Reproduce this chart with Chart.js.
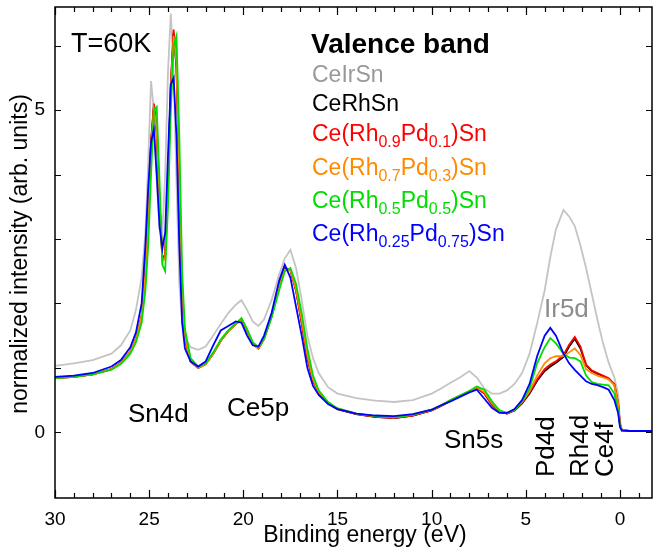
<!DOCTYPE html>
<html>
<head>
<meta charset="utf-8">
<script src="https://cdn.jsdelivr.net/npm/chart.js@4"></script>
<style>
  body { margin: 0; background: #fff; }
  canvas { display: block; }
</style>
</head>
<body>
<canvas id="vb-chart" width="654" height="551"></canvas>
<script>
// binding energy grid (eV)
let energy = [
  30, 29, 28, 27, 26.5, 26, 25.7, 25.4, 25.2, 25.05,
  24.9, 24.75, 24.6, 24.45, 24.3, 24.15, 24.0, 23.85, 23.7, 23.55,
  23.4, 23.25, 23.1, 22.8, 22.4, 22.0, 21.6, 21.2, 20.8, 20.4,
  20.1, 19.8, 19.5, 19.2, 18.9, 18.5, 18.1, 17.8, 17.5, 17.2,
  16.9, 16.6, 16.3, 16.0, 15.5, 15.0, 14.0, 13.0, 12.0, 11.0,
  10.0, 9.5, 9.0, 8.5, 8.0, 7.6, 7.2, 6.8, 6.4, 6.0,
  5.6, 5.2, 4.8, 4.4, 4.0, 3.7, 3.4, 3.0, 2.7, 2.4,
  2.1, 1.8, 1.5, 1.2, 0.9, 0.6, 0.3, 0.1, 0.0, -0.1,
  -0.5, -1.7
];

let ceIrSn = [
  1.03, 1.07, 1.12, 1.22, 1.35, 1.58, 1.9, 2.4, 3.1, 4.2,
  5.45, 5.0, 3.9, 3.15, 3.1, 4.0, 5.6, 6.5, 5.6, 3.9,
  2.3, 1.7, 1.48, 1.32, 1.28, 1.33, 1.5, 1.68, 1.85, 1.98,
  2.05, 1.9, 1.72, 1.65, 1.75, 2.05, 2.45, 2.7, 2.83, 2.55,
  2.05, 1.5, 1.15, 0.92, 0.7, 0.6, 0.53, 0.49, 0.47, 0.5,
  0.6, 0.68, 0.77, 0.85, 0.95, 0.85, 0.68, 0.6, 0.6, 0.65,
  0.75, 0.92, 1.22, 1.69, 2.2, 2.72, 3.15, 3.45, 3.35, 3.2,
  2.9, 2.55, 2.15, 1.75, 1.38, 1.08, 0.85, 0.6, 0.2, 0.03,
  0.02, 0.02
];

let ceRhSn = [
  0.84, 0.86, 0.9, 0.98, 1.08, 1.25, 1.45, 1.8, 2.5, 3.4,
  4.5, 5.05, 4.65, 3.6, 2.7, 2.75, 3.9, 5.4, 6.2, 5.65,
  3.9, 2.1, 1.45, 1.1, 1.0, 1.06, 1.22, 1.42, 1.57, 1.68,
  1.75, 1.57, 1.38, 1.3, 1.45, 1.8, 2.25, 2.55, 2.52, 2.2,
  1.7, 1.15, 0.8, 0.62, 0.45, 0.36, 0.28, 0.24, 0.22, 0.26,
  0.34, 0.41, 0.49, 0.56, 0.63, 0.69, 0.6, 0.43, 0.32, 0.29,
  0.34, 0.45, 0.6, 0.8, 0.95, 1.02, 1.08, 1.17, 1.33, 1.45,
  1.3, 1.04, 0.95, 0.91, 0.87, 0.83, 0.74, 0.45, 0.12, 0.03,
  0.02, 0.02
];

let rh09 = [
  0.84, 0.86, 0.9, 0.98, 1.08, 1.25, 1.45, 1.8, 2.5, 3.4,
  4.5, 5.1, 4.7, 3.6, 2.7, 2.75, 3.9, 5.4, 6.25, 5.7,
  3.9, 2.1, 1.45, 1.1, 1.0, 1.06, 1.22, 1.42, 1.57, 1.68,
  1.76, 1.58, 1.38, 1.3, 1.45, 1.8, 2.25, 2.55, 2.52, 2.2,
  1.7, 1.15, 0.8, 0.62, 0.45, 0.36, 0.28, 0.24, 0.22, 0.26,
  0.34, 0.41, 0.49, 0.56, 0.63, 0.69, 0.6, 0.43, 0.32, 0.29,
  0.34, 0.46, 0.62, 0.82, 0.98, 1.05, 1.1, 1.2, 1.36, 1.48,
  1.33, 1.05, 0.96, 0.92, 0.88, 0.84, 0.75, 0.45, 0.12, 0.03,
  0.02, 0.02
];

let rh07 = [
  0.84, 0.86, 0.9, 0.98, 1.08, 1.25, 1.45, 1.8, 2.45, 3.3,
  4.4, 5.0, 4.7, 3.6, 2.65, 2.7, 3.8, 5.3, 6.15, 5.75,
  4.0, 2.2, 1.48, 1.1, 1.0, 1.06, 1.22, 1.42, 1.57, 1.68,
  1.76, 1.58, 1.36, 1.3, 1.45, 1.8, 2.25, 2.52, 2.52, 2.22,
  1.75, 1.2, 0.82, 0.63, 0.46, 0.37, 0.29, 0.25, 0.23, 0.27,
  0.35, 0.42, 0.5, 0.57, 0.64, 0.7, 0.62, 0.45, 0.33, 0.3,
  0.35, 0.47, 0.64, 0.88, 1.07, 1.15, 1.18, 1.18, 1.24, 1.3,
  1.2, 0.98, 0.92, 0.88, 0.85, 0.82, 0.73, 0.45, 0.12, 0.03,
  0.02, 0.02
];

let rh05 = [
  0.84, 0.86, 0.9, 0.97, 1.06, 1.22, 1.4, 1.7, 2.2, 2.9,
  4.0, 5.0, 5.05, 3.9, 2.6, 2.5, 3.5, 5.0, 6.0, 6.15,
  4.6, 2.5, 1.6, 1.15, 1.02, 1.07, 1.24, 1.44, 1.58, 1.69,
  1.77, 1.6, 1.4, 1.32, 1.45, 1.78, 2.2, 2.5, 2.55, 2.3,
  1.85, 1.3, 0.88, 0.65, 0.47, 0.37, 0.29, 0.25, 0.23, 0.27,
  0.35, 0.42, 0.5, 0.57, 0.64, 0.71, 0.66, 0.48, 0.34, 0.3,
  0.35, 0.48, 0.68, 1.07, 1.32, 1.46, 1.38, 1.22, 1.16, 1.15,
  1.1, 0.88, 0.78, 0.75, 0.74, 0.73, 0.6, 0.35, 0.1, 0.03,
  0.02, 0.02
];

let rh025 = [
  0.86, 0.88, 0.92, 1.02, 1.12, 1.32, 1.55, 2.0, 2.9, 3.8,
  4.5, 4.7, 4.0, 3.2, 2.85, 3.1, 4.3, 5.4, 5.5, 4.6,
  2.9, 1.7, 1.3, 1.1, 1.02, 1.1, 1.35, 1.58, 1.65, 1.72,
  1.7, 1.5, 1.35, 1.33, 1.5, 1.85, 2.35, 2.6, 2.4, 1.95,
  1.5, 1.0, 0.72, 0.58, 0.44, 0.36, 0.29, 0.26, 0.25, 0.28,
  0.35, 0.42, 0.48, 0.55, 0.62, 0.66, 0.52, 0.38, 0.3, 0.3,
  0.36, 0.5, 0.75, 1.18, 1.5, 1.62, 1.5, 1.22, 1.07, 0.97,
  0.88, 0.79, 0.75, 0.73, 0.7, 0.66, 0.5, 0.3, 0.08, 0.03,
  0.02, 0.02
];

let seriesNames = ['CeIrSn', 'CeRhSn', 'Ce(Rh_{0.9}Pd_{0.1})Sn', 'Ce(Rh_{0.7}Pd_{0.3})Sn',
  'Ce(Rh_{0.5}Pd_{0.5})Sn', 'Ce(Rh_{0.25}Pd_{0.75})Sn'];
let seriesValues = [ceIrSn, ceRhSn, rh09, rh07, rh05, rh025];
let lineColors = ['#c4c4c4', '#000000', '#ff0000', '#ff8a00', '#00dd00', '#0000ff'];
let textColors = ['#999999', '#000000', '#ff0000', '#ff8a00', '#00dd00', '#0000ff'];
// legend baselines (subscripted lines sit a bit further apart)
let legendY = [82, 111, 141, 175, 208, 241];

let xTicks = [30, 25, 20, 15, 10, 5, 0];
let yTicks = [0, 5];

const FONT = "'Liberation Sans', Arial, Helvetica, sans-serif";

function drawRich(ctx, x, y, str, size) {
  let parts = str.split(/(_\{[^}]*\})/).filter(p => p.length);
  let cx = x;
  parts.forEach(p => {
    if (p.startsWith('_{')) {
      let t = p.slice(2, -1);
      ctx.font = Math.round(size * 0.68) + 'px ' + FONT;
      ctx.fillText(t, cx, y + size * 0.24);
      cx += ctx.measureText(t).width;
    } else {
      ctx.font = size + 'px ' + FONT;
      ctx.fillText(p, cx, y);
      cx += ctx.measureText(p).width;
    }
  });
}

function rotText(ctx, str, x, y) {
  ctx.save();
  ctx.translate(x, y);
  ctx.rotate(-Math.PI / 2);
  ctx.fillText(str, 0, 0);
  ctx.restore();
}

const frame = {
  id: 'frame',
  afterDraw(chart) {
    const ctx = chart.ctx;
    const a = chart.chartArea;
    const xs = chart.scales.x, ys = chart.scales.y;
    ctx.save();
    ctx.strokeStyle = '#000';
    ctx.lineWidth = 1.5;
    ctx.strokeRect(a.left, a.top, a.right - a.left, a.bottom - a.top);
    ctx.beginPath();
    for (let v = 30; v >= -1; v--) {
      let px = Math.round(xs.getPixelForValue(v)) + 0.5;
      let len = v % 5 === 0 ? 8 : 5;
      ctx.moveTo(px, a.bottom); ctx.lineTo(px, a.bottom - len);
      ctx.moveTo(px, a.top); ctx.lineTo(px, a.top + len);
    }
    for (let v = 0; v <= 6; v++) {
      let py = Math.round(ys.getPixelForValue(v)) + 0.5;
      ctx.moveTo(a.left, py); ctx.lineTo(a.left + 6, py);
      ctx.moveTo(a.right, py); ctx.lineTo(a.right - 6, py);
    }
    ctx.lineWidth = 1.2;
    ctx.stroke();

    ctx.textBaseline = 'alphabetic';
    ctx.textAlign = 'left';
    ctx.fillStyle = '#000';
    ctx.font = '27px ' + FONT;
    ctx.fillText('T=60K', 71, 52);

    ctx.font = 'bold 28px ' + FONT;
    ctx.fillText('Valence band', 311, 53);
    seriesNames.forEach((n, i) => {
      ctx.fillStyle = textColors[i];
      drawRich(ctx, 312, legendY[i], n, 23);
    });

    ctx.fillStyle = '#000';
    ctx.font = '26px ' + FONT;
    ctx.fillText('Sn4d', 128, 422);
    ctx.fillText('Ce5p', 227, 416);
    ctx.fillText('Sn5s', 444, 448);
    rotText(ctx, 'Pd4d', 554, 477);
    rotText(ctx, 'Rh4d', 588, 477);
    rotText(ctx, 'Ce4f', 613, 477);
    ctx.fillStyle = '#8c8c8c';
    ctx.fillText('Ir5d', 544, 317);

    ctx.fillStyle = '#000';
    ctx.font = '23px ' + FONT;
    ctx.textAlign = 'center';
    ctx.fillText('Binding energy (eV)', 365, 542);
    rotText(ctx, 'normalized intensity (arb. units)', 27, 254);
    ctx.restore();
  }
};

let chartCtx = document.getElementById('vb-chart').getContext('2d');

let vbChart = new Chart(chartCtx, {
  type: 'line',
  data: {
    datasets: seriesValues.map((vals, i) => ({
      label: seriesNames[i],
      data: vals.map((v, j) => ({ x: energy[j], y: v })),
      borderColor: lineColors[i],
      borderWidth: 1.8,
      pointRadius: 0,
      fill: false,
      tension: 0,
      order: 6 - i
    }))
  },
  options: {
    responsive: false,
    animation: false,
    layout: { padding: { top: 7, right: 2, left: 0, bottom: 0 } },
    plugins: {
      legend: { display: false },
      tooltip: { enabled: false }
    },
    scales: {
      x: {
        type: 'linear',
        reverse: true,
        min: -1.7,
        max: 30,
        grid: { display: false, drawTicks: false },
        border: { display: false },
        afterBuildTicks: s => { s.ticks = xTicks.map(v => ({ value: v })); },
        afterFit: s => { s.height = 53; s.paddingLeft = 0; s.paddingRight = 0; },
        ticks: { padding: 10, color: '#000', maxRotation: 0, autoSkip: false,
          font: { family: FONT, size: 19 } }
      },
      y: {
        min: -1.02,
        max: 6.6,
        grid: { display: false, drawTicks: false },
        border: { display: false },
        afterBuildTicks: s => { s.ticks = yTicks.map(v => ({ value: v })); },
        afterFit: s => { s.width = 55; s.paddingTop = 0; s.paddingBottom = 0; },
        ticks: { padding: 10, color: '#000', font: { family: FONT, size: 19 } }
      }
    }
  },
  plugins: [frame]
});
</script>
</body>
</html>
